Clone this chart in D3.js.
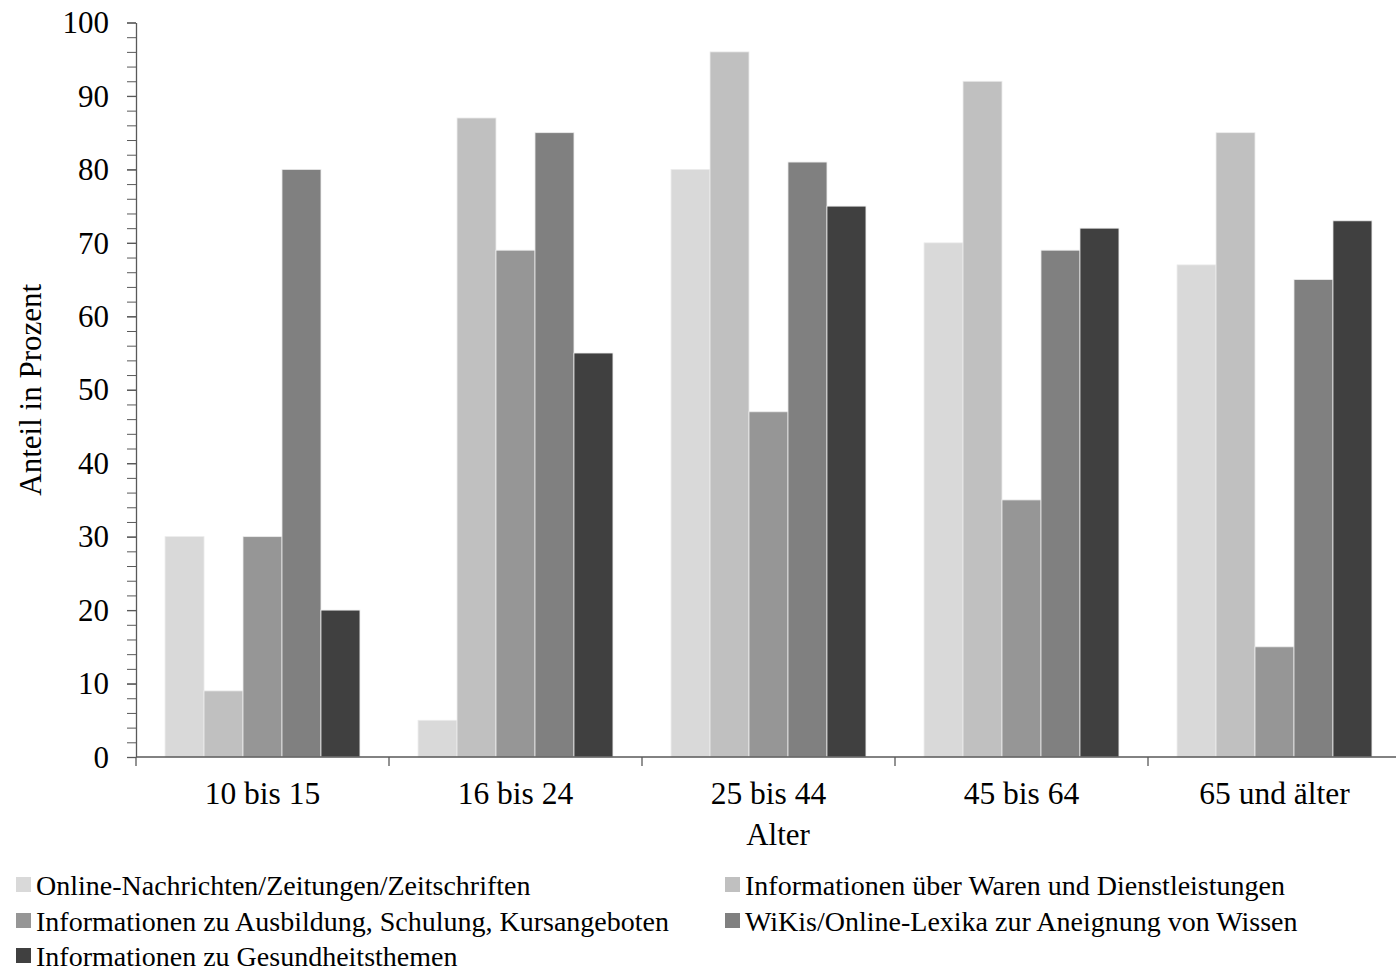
<!DOCTYPE html>
<html>
<head>
<meta charset="utf-8">
<script src="https://cdn.jsdelivr.net/npm/d3@7"></script>
<style>
  html, body { margin: 0; padding: 0; background: #fff; }
  svg { display: block; font-family: "Liberation Serif", "Times New Roman", serif; }
</style>
</head>
<body>
<svg id="chart" width="1396" height="973"></svg>
<script>
// Age groups on the x axis
const categories = ["10 bis 15", "16 bis 24", "25 bis 44", "45 bis 64", "65 und älter"];

// Series names (legend order) and their grey fills
const seriesNames = [
  "Online-Nachrichten/Zeitungen/Zeitschriften",
  "Informationen über Waren und Dienstleistungen",
  "Informationen zu Ausbildung, Schulung, Kursangeboten",
  "WiKis/Online-Lexika zur Aneignung von Wissen",
  "Informationen zu Gesundheitsthemen"
];
const seriesColors = ["#d9d9d9", "#c0c0c0", "#969696", "#808080", "#404040"];

// Share in percent, one array per series, one value per age group
const nachrichten   = [30, 5, 80, 70, 67];
const waren         = [9, 87, 96, 92, 85];
const ausbildung    = [30, 69, 47, 35, 15];
const wikis         = [80, 85, 81, 69, 65];
const gesundheit    = [20, 55, 75, 72, 73];
const seriesValues = [nachrichten, waren, ausbildung, wikis, gesundheit];

const yTicks = [0, 10, 20, 30, 40, 50, 60, 70, 80, 90, 100];
const yMinorTicks = d3.range(0, 101, 2);

const svg = d3.select("#chart");
const plot = { left: 136, right: 1401, top: 22.5, bottom: 757 };

const x = d3.scaleBand().domain(categories).range([plot.left, plot.right]).padding(0);
const xInner = d3.scaleBand().domain(d3.range(seriesNames.length))
  .range([0, x.bandwidth()]).paddingInner(0).paddingOuter(0.745);
const y = d3.scaleLinear().domain([0, 100]).range([plot.bottom, plot.top]);

// Bars
const groups = svg.append("g").selectAll("g")
  .data(categories)
  .join("g")
  .attr("transform", d => `translate(${x(d)},0)`);

groups.selectAll("rect")
  .data((d, ci) => seriesValues.map((vals, si) => ({ si, v: vals[ci] })))
  .join("rect")
  .attr("x", d => xInner(d.si))
  .attr("width", xInner.bandwidth())
  .attr("y", d => y(d.v))
  .attr("height", d => y(0) - y(d.v))
  .attr("fill", d => seriesColors[d.si])
  .attr("stroke", "#ececec")
  .attr("stroke-width", 0.8);

// Y axis: minor ticks every 2, labelled ticks every 10
const axisColor = "#595959";
const yMinor = svg.append("g").attr("transform", `translate(${plot.left},0)`)
  .call(d3.axisLeft(y).tickValues(yMinorTicks).tickSize(9).tickFormat(""));
yMinor.select(".domain").remove();
yMinor.selectAll("line").attr("stroke", axisColor);

const yAxis = svg.append("g").attr("transform", `translate(${plot.left},0)`)
  .call(d3.axisLeft(y).tickValues(yTicks).tickSize(9).tickPadding(18).tickSizeOuter(0));
yAxis.select(".domain").attr("stroke", axisColor).attr("stroke-width", 1.3);
yAxis.selectAll("line").attr("stroke", axisColor).attr("stroke-width", 1.3);
yAxis.selectAll("text").attr("font-size", 31).attr("fill", "#000")
  .attr("font-family", "Liberation Serif, serif").attr("dy", "0.33em");

// X axis with ticks between categories
const xAxis = svg.append("g").attr("transform", `translate(0,${plot.bottom})`);
xAxis.append("line").attr("x1", plot.left).attr("x2", plot.right).attr("y1", 0).attr("y2", 0)
  .attr("stroke", axisColor).attr("stroke-width", 1.3);
const boundaries = categories.map(c => x(c)).concat([x(categories[categories.length - 1]) + x.bandwidth()]);
xAxis.selectAll("line.sep").data(boundaries).join("line")
  .attr("class", "sep")
  .attr("x1", d => d).attr("x2", d => d).attr("y1", 0).attr("y2", 9)
  .attr("stroke", axisColor).attr("stroke-width", 1.3);
xAxis.selectAll("text").data(categories).join("text")
  .attr("x", d => x(d) + x.bandwidth() / 2)
  .attr("y", 47)
  .attr("text-anchor", "middle")
  .attr("font-size", 31.5)
  .text(d => d);

// Axis titles
svg.append("text")
  .attr("x", 778).attr("y", 845)
  .attr("text-anchor", "middle").attr("font-size", 31)
  .text("Alter");
svg.append("text")
  .attr("transform", `translate(41,${(plot.top + plot.bottom) / 2}) rotate(-90)`)
  .attr("text-anchor", "middle").attr("font-size", 31)
  .text("Anteil in Prozent");

// Legend in two columns
const legendPos = [[16, 885], [725, 885], [16, 921], [725, 921], [16, 956]];
const legend = svg.append("g").selectAll("g")
  .data(seriesNames)
  .join("g")
  .attr("transform", (d, i) => `translate(${legendPos[i][0]},${legendPos[i][1]})`);
legend.append("rect")
  .attr("x", 0).attr("y", -8).attr("width", 15).attr("height", 15)
  .attr("fill", (d, i) => seriesColors[i]);
legend.append("text")
  .attr("x", 20).attr("y", 0).attr("dy", "0.35em")
  .attr("font-size", 28)
  .text(d => d);
</script>
</body>
</html>
